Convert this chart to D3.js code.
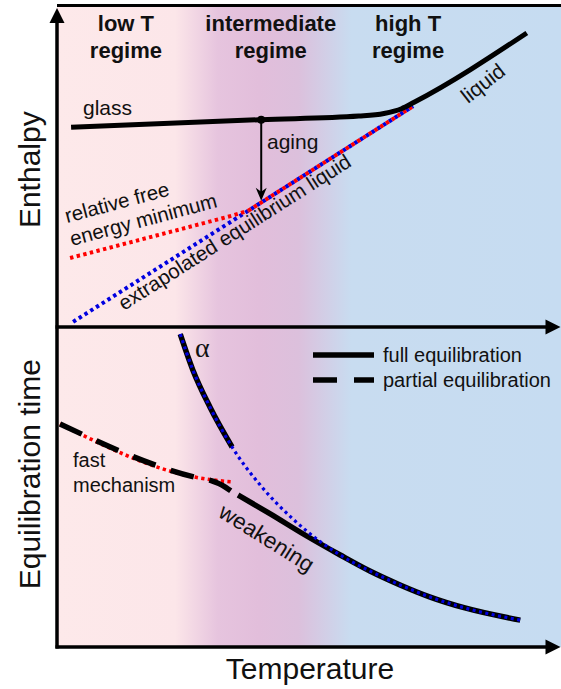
<!DOCTYPE html>
<html>
<head>
<meta charset="utf-8">
<script src="https://cdn.jsdelivr.net/npm/d3@7"></script>
<style>
  html, body { margin: 0; padding: 0; background: #fff; }
  svg { display: block; }
  text { font-family: "Liberation Sans", Arial, sans-serif; fill: #111; }
</style>
</head>
<body>
<svg id="chart" width="561" height="689"></svg>
<script>
// ---- data (temperature T and enthalpy H / log time tau in arbitrary units 0-100) ----
const regimeNames = [["low T", "regime"], ["intermediate", "regime"], ["high T", "regime"]];
const regimeCentres = [13.7, 42.5, 69.8];

const glassLiquid = [[2.8, 62.2], [40.6, 64.6], [60, 65.7], [65, 66.5], [68.5, 68.0], [71, 70.0], [93.4, 91.6]];
const extrapolatedLiquid = [[3.2, 1.6], [70.8, 68.8]];
const freeEnergyMin = [[2.6, 21.5], [20, 28.6], [30, 32.7], [35, 34.8], [38, 36.2], [70.8, 68.8]];
const agingT = 40.6, agingFrom = 64.6, agingTo = 39.3;

const alphaFull = [[24.5, 97.8], [27.0, 86.6], [30.4, 75.0], [34.8, 62.5]];
const alphaExtrap = [[24.5, 97.8], [27.0, 86.6], [30.4, 75.0], [34.8, 62.5], [40.4, 50.6], [46.9, 40.0],
  [52.7, 32.5], [58.3, 26.9], [62.2, 23.75], [68.2, 19.4], [74.2, 15.6], [81.1, 12.2], [92.1, 8.4]];
const weakeningFull = [[36.0, 47.5], [42.4, 41.6], [49.3, 35.0], [56.3, 28.75], [62.2, 23.75],
  [68.2, 19.4], [74.2, 15.6], [81.1, 12.2], [92.1, 8.4]];
const partialEq = [[0.6, 69.7], [27.4, 53.1], [30.8, 51.9], [32.8, 50.6], [34.6, 48.75]];
const fastMechanism = [[0.6, 69.7], [27.4, 53.1], [31.0, 52.2], [34.8, 51.6]];

const legendItems = ["full equilibration", "partial equilibration"];

// ---- scales ----
const svg = d3.select("#chart");
const x = d3.scaleLinear().domain([0, 100]).range([57, 560]);
const yTop = d3.scaleLinear().domain([0, 100]).range([327, 6]);
const yBot = d3.scaleLinear().domain([0, 100]).range([647, 327]);

const RED = "#ff0000", BLUE = "#0000e0", INK = "#000";

// ---- background: three temperature regimes blended horizontally ----
const defs = svg.append("defs");
const grad = defs.append("linearGradient").attr("id", "regimes")
  .attr("gradientUnits", "userSpaceOnUse")
  .attr("x1", x(0)).attr("x2", x(100)).attr("y1", 0).attr("y2", 0);
[[0, "#fde9ea"], [0.235, "#fce6e9"], [0.32, "#e6c4de"], [0.40, "#e2bedb"], [0.48, "#dcc0dc"],
 [0.585, "#c8dcf0"], [1, "#c6dcf1"]]
  .forEach(([o, c]) => grad.append("stop").attr("offset", o).attr("stop-color", c));

svg.append("rect")
  .attr("x", x(0)).attr("y", yTop(100) - 1)
  .attr("width", 561 - x(0)).attr("height", yBot(0) - yTop(100) + 1)
  .attr("fill", "url(#regimes)");

// ---- axes ----
const axes = svg.append("g").attr("stroke", INK).attr("fill", "none");
axes.append("line").attr("x1", x(0)).attr("x2", 561).attr("y1", 5.5).attr("y2", 5.5).attr("stroke-width", 3);
axes.append("line").attr("x1", x(0)).attr("x2", x(0)).attr("y1", yBot(0) + 1.5).attr("y2", 14).attr("stroke-width", 3.5);
axes.append("line").attr("x1", x(0) - 1.5).attr("x2", 550).attr("y1", yTop(0)).attr("y2", yTop(0)).attr("stroke-width", 3.5);
axes.append("line").attr("x1", x(0) - 1.5).attr("x2", 550).attr("y1", yBot(0)).attr("y2", yBot(0)).attr("stroke-width", 3.5);

function arrowRight(tx, ty) {
  svg.append("path").attr("fill", INK)
    .attr("d", `M${tx},${ty} L${tx - 15},${ty - 7.5} L${tx - 15},${ty + 7.5} Z`);
}
function arrowUp(tx, ty) {
  svg.append("path").attr("fill", INK)
    .attr("d", `M${tx},${ty} L${tx - 7.5},${ty + 15} L${tx + 7.5},${ty + 15} Z`);
}
arrowUp(x(0), 8);
arrowRight(560.5, yTop(0));
arrowRight(560.5, yBot(0));

// ---- regime headings ----
const heads = svg.append("g").attr("text-anchor", "middle")
  .style("font-weight", "bold").style("font-size", "22px");
regimeNames.forEach((lines, i) => {
  lines.forEach((s, j) => {
    heads.append("text").attr("x", x(regimeCentres[i])).attr("y", 31 + 27 * j).text(s);
  });
});

// ---- enthalpy panel ----
const lineTop = d3.line().x(d => x(d[0])).y(d => yTop(d[1])).curve(d3.curveMonotoneX);
const DOT_W = 4, DOT = "3.4,3.4";

svg.append("path").datum(extrapolatedLiquid).attr("d", lineTop)
  .attr("fill", "none").attr("stroke", BLUE).attr("stroke-width", DOT_W).attr("stroke-dasharray", DOT);

// free-energy minimum: own branch, then the stretch shared with the liquid line
const mergeIdx = freeEnergyMin.length - 2;
svg.append("path").datum(freeEnergyMin.slice(0, mergeIdx + 1)).attr("d", lineTop)
  .attr("fill", "none").attr("stroke", RED).attr("stroke-width", DOT_W).attr("stroke-dasharray", DOT);
const m = freeEnergyMin[mergeIdx], s0 = extrapolatedLiquid[0];
const dMerge = Math.hypot(x(m[0]) - x(s0[0]), yTop(m[1]) - yTop(s0[1]));
svg.append("path").datum(freeEnergyMin.slice(mergeIdx)).attr("d", lineTop)
  .attr("fill", "none").attr("stroke", RED).attr("stroke-width", DOT_W)
  .attr("stroke-dasharray", DOT).attr("stroke-dashoffset", dMerge - 3.4);

svg.append("path").datum(glassLiquid).attr("d", lineTop)
  .attr("fill", "none").attr("stroke", INK).attr("stroke-width", 5).attr("stroke-linecap", "butt");

// aging arrow
const ax = x(agingT), ay0 = yTop(agingFrom), ay1 = yTop(agingTo);
svg.append("line").attr("x1", ax).attr("x2", ax).attr("y1", ay0).attr("y2", ay1 - 8)
  .attr("stroke", INK).attr("stroke-width", 2);
svg.append("path").attr("fill", INK)
  .attr("d", `M${ax},${ay1} L${ax - 5.5},${ay1 - 13} L${ax},${ay1 - 9} L${ax + 5.5},${ay1 - 13} Z`);
svg.append("circle").attr("cx", ax).attr("cy", ay0).attr("r", 4).attr("fill", INK);

const lab = svg.append("g").style("font-size", "21px");
lab.append("text").attr("x", 83).attr("y", 115).text("glass");
lab.append("text").attr("x", 267).attr("y", 149).text("aging");
lab.append("text").attr("transform", "translate(468,104) rotate(-38)").text("liquid");
lab.append("text").attr("transform", "translate(67,223) rotate(-15)").style("font-size", "20.5px").text("relative free");
lab.append("text").attr("transform", "translate(72,246) rotate(-15)").style("font-size", "20.5px").text("energy minimum");
lab.append("text").attr("transform", "translate(124,311) rotate(-32.5)").style("font-size", "20.5px")
  .text("extrapolated equilibrium liquid");

// ---- equilibration-time panel ----
const lineBot = d3.line().x(d => x(d[0])).y(d => yBot(d[1])).curve(d3.curveMonotoneX);

svg.append("path").datum(fastMechanism).attr("d", lineBot)
  .attr("fill", "none").attr("stroke", RED).attr("stroke-width", 3.6).attr("stroke-dasharray", "3.3,3.3");
svg.append("path").datum(partialEq).attr("d", lineBot)
  .attr("fill", "none").attr("stroke", INK).attr("stroke-width", 5.5).attr("stroke-dasharray", "24,16");
svg.append("path").datum(alphaFull).attr("d", lineBot)
  .attr("fill", "none").attr("stroke", INK).attr("stroke-width", 5.5);
svg.append("path").datum(weakeningFull).attr("d", lineBot)
  .attr("fill", "none").attr("stroke", INK).attr("stroke-width", 5.5);
svg.append("path").datum(alphaExtrap).attr("d", lineBot)
  .attr("fill", "none").attr("stroke", BLUE).attr("stroke-width", 3.2).attr("stroke-dasharray", "3,3.5");

svg.append("text").attr("x", 195).attr("y", 357)
  .style("font-family", "'Liberation Serif', serif").style("font-size", "28px").text("α");
lab.append("text").attr("x", 73).attr("y", 467).style("font-size", "20px").text("fast");
lab.append("text").attr("x", 73).attr("y", 492).style("font-size", "20px").text("mechanism");
lab.append("text").attr("transform", "translate(217,516) rotate(32)").style("font-size", "22.5px").text("weakening");

// legend
const leg = svg.append("g");
leg.append("line").attr("x1", 313).attr("x2", 374).attr("y1", 355).attr("y2", 355)
  .attr("stroke", INK).attr("stroke-width", 5.5);
leg.append("line").attr("x1", 313).attr("x2", 374).attr("y1", 380).attr("y2", 380)
  .attr("stroke", INK).attr("stroke-width", 5.5).attr("stroke-dasharray", "24,17,24");
legendItems.forEach((s, i) => {
  leg.append("text").attr("x", 383).attr("y", 362 + 25 * i).style("font-size", "20px").text(s);
});

// ---- axis titles ----
const titles = svg.append("g").style("font-size", "30px").attr("text-anchor", "middle");
titles.append("text").attr("transform", `translate(40,${yTop(49)}) rotate(-90)`).text("Enthalpy");
titles.append("text").attr("transform", `translate(40,${yBot(54)}) rotate(-90)`).text("Equilibration time");
titles.append("text").attr("x", 310).attr("y", 679).text("Temperature");
</script>
</body>
</html>
